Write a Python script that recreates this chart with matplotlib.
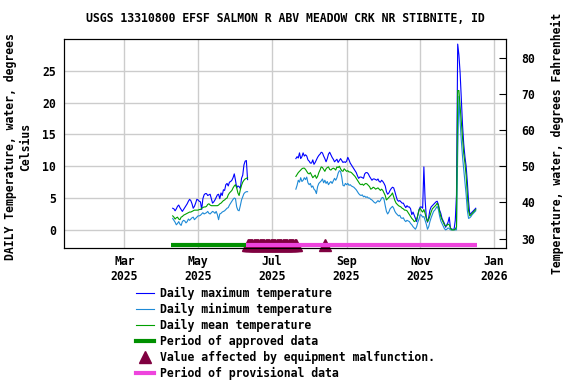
import pandas as pd
import matplotlib
matplotlib.use("Agg")
import matplotlib.pyplot as plt
from matplotlib.lines import Line2D

plt.rcParams["font.family"] = ["DejaVu Sans Mono"]
plt.rcParams["font.size"] = 8.3
plt.rcParams["font.weight"] = "bold"

TITLE = "USGS 13310800 EFSF SALMON R ABV MEADOW CRK NR STIBNITE, ID"

# Spring record (daily, deg C) starting 2025-04-10
start_1 = "2025-04-10"
max_1 = [3.4, 3.3, 3.0, 3.3, 3.7, 3.9, 3.5, 3.2, 2.9, 3.2,
         3.5, 3.8, 4.1, 4.5, 4.8, 4.6, 4.1, 3.4, 3.7, 4.2,
         4.8, 4.7, 4.5, 4.4, 3.2, 4.9, 5.5, 5.7, 5.7, 5.4,
         5.5, 5.6, 4.9, 4.2, 4.4, 4.7, 5.1, 5.5, 5.6, 4.9,
         5.8, 5.4, 6.3, 6.2, 7.1, 7.3, 6.9, 7.5, 7.6, 7.8,
         8.2, 8.8, 7.8, 6.6, 6.9, 6.8, 6.5, 8.1, 8.6, 10.2,
         10.8, 10.9, 7.9]
mean_1 = [2.2, 2.0, 1.7, 1.9, 2.0, 1.7, 1.6, 2.0, 2.1, 2.3,
          2.4, 2.5, 2.6, 2.7, 2.8, 2.8, 2.9, 3.0, 3.1, 3.1,
          3.1, 3.1, 3.2, 3.2, 3.4, 3.5, 3.6, 3.6, 3.7, 4.0,
          4.1, 3.9, 3.8, 3.8, 3.8, 3.8, 3.8, 3.8, 3.9, 4.1,
          4.2, 4.4, 4.6, 4.7, 4.9, 5.0, 5.5, 5.8, 6.0, 6.2,
          6.6, 6.9, 7.1, 6.6, 5.8, 5.4, 6.3, 7.0, 7.5, 7.8,
          8.0, 8.1, 8.2]
min_1 = [1.8, 1.5, 1.2, 0.8, 1.0, 1.3, 0.9, 0.7, 1.3, 1.5,
         1.4, 1.1, 1.3, 1.7, 1.5, 1.7, 1.9, 2.0, 1.6, 1.8,
         2.0, 2.2, 2.2, 2.3, 2.5, 2.7, 2.5, 2.6, 2.7, 2.9,
         2.6, 2.5, 2.7, 2.9, 2.8, 2.6, 2.9, 2.4, 1.6, 2.5,
         2.6, 2.8, 2.9, 3.0, 3.2, 3.4, 3.5, 3.9, 4.2, 4.5,
         4.8, 5.0, 4.9, 3.6, 3.1, 3.0, 3.8, 4.7, 5.2, 5.7,
         5.9, 6.0, 6.0]

# Summer-fall record (daily, deg C) starting 2025-07-21
start_2 = "2025-07-21"
max_2 = [11.2, 11.5, 11.3, 12.1, 11.2, 11.5, 12.1, 11.6, 11.8, 11.6,
         11.0, 10.8, 10.5, 10.5, 11.0, 10.3, 10.6, 11.0, 11.4, 11.7,
         11.9, 12.2, 12.1, 11.6, 11.2, 10.7, 11.2, 11.9, 12.2, 11.8,
         11.4, 11.1, 10.7, 10.9, 11.1, 10.6, 10.9, 11.2, 10.9, 10.6,
         10.7, 10.6, 10.8, 11.4, 11.0, 10.5, 10.2, 9.9, 9.6, 9.3,
         9.0, 8.5, 8.1, 8.3, 8.3, 8.2, 8.1, 8.8, 9.0, 9.0,
         8.8, 8.4, 8.1, 7.8, 8.0, 8.0, 7.9, 7.8, 8.0, 7.6,
         7.5, 7.8, 7.6, 7.3, 6.9, 6.0, 5.6, 5.8, 6.2, 6.5,
         6.7, 6.6, 6.0, 5.3, 4.7, 4.5, 4.6, 4.4, 4.2, 4.2,
         3.8, 3.5, 3.8, 3.6, 3.6, 3.3, 2.4, 2.8, 2.3, 1.8,
         1.3, 2.4, 3.2, 3.6, 3.6, 3.4, 9.9, 4.8, 2.0, 1.2,
         2.0, 3.1, 3.6, 3.8, 4.0, 4.2, 4.4, 4.5, 4.0, 3.1,
         2.6, 1.8, 1.4, 1.0, 0.4, 0.8, 1.2, 2.0, 0.3, 0.1,
         0.1, 0.1, 1.5, 5.5, 29.2, 27.5, 24.7, 20.5, 16.5, 13.5,
         11.5, 10.0, 7.5, 4.5, 2.4, 2.6, 2.8, 3.0, 3.2, 3.4]
mean_2 = [8.4, 8.7, 9.0, 9.2, 9.4, 9.6, 9.7, 9.7, 9.5, 9.2,
          8.9, 8.8, 9.0, 8.6, 8.2, 8.4, 8.6, 8.1, 8.4, 9.0,
          9.4, 9.9, 9.8, 9.5, 9.2, 9.6, 9.8, 9.9, 9.5, 9.4,
          9.6, 9.7, 9.6, 9.4, 9.9, 9.8, 10.0, 9.6, 9.3, 9.2,
          9.6, 9.4, 9.2, 9.3, 9.1, 9.1, 9.0, 8.8, 8.6, 8.4,
          8.1, 7.8, 7.5, 7.2, 7.1, 7.2, 7.0, 7.2, 7.3, 7.2,
          7.0, 6.8, 6.4, 6.5, 6.7, 6.6, 6.4, 6.5, 6.6, 6.4,
          6.2, 6.4, 6.2, 5.8, 5.4, 4.7, 4.9, 5.1, 5.3, 5.5,
          5.8, 5.2, 4.6, 4.2, 4.0, 3.8, 3.7, 3.6, 3.4, 3.3,
          3.1, 3.1, 3.0, 2.7, 2.4, 2.1, 1.8, 1.6, 1.3, 1.4,
          1.7, 2.3, 3.1, 3.4, 3.0, 2.8, 3.2, 2.6, 1.8, 1.3,
          1.6, 2.2, 2.8, 3.3, 3.5, 3.7, 3.9, 4.2, 3.8, 2.9,
          2.1, 1.6, 1.2, 0.8, 0.6, 0.7, 0.9, 0.8, 0.3, 0.0,
          0.0, 0.0, 0.1, 0.5, 21.9, 21.9, 19.5, 17.0, 14.5, 12.0,
          10.5, 8.5, 5.5, 3.0, 2.2, 2.4, 2.6, 2.8, 3.0, 3.2]
min_2 = [6.4, 7.0, 7.8, 7.5, 8.2, 7.6, 7.8, 8.2, 7.9, 8.3,
         7.4, 7.1, 7.3, 6.7, 6.9, 6.4, 6.2, 5.7, 6.8, 7.3,
         7.5, 7.7, 8.0, 7.4, 7.8, 7.3, 7.6, 7.1, 7.4, 7.6,
         7.3, 7.7, 8.1, 7.8, 8.2, 8.9, 9.3, 9.2, 8.3, 7.0,
         6.9, 7.3, 7.1, 7.3, 7.0, 7.1, 6.9, 6.8, 6.7, 6.5,
         6.3, 6.0, 5.7, 5.5, 5.4, 5.5, 5.2, 5.3, 5.1, 5.2,
         5.0, 5.0, 4.8, 4.7, 4.5, 4.3, 4.2, 4.4, 4.6, 4.4,
         4.6, 5.0, 5.1, 4.8, 3.8, 2.9, 2.5, 2.8, 3.3, 3.5,
         3.7, 3.4, 2.9, 2.6, 2.4, 2.2, 2.3, 1.9, 1.8, 1.9,
         1.5, 1.3, 1.5, 1.4, 1.3, 1.0, 0.8, 0.5, 0.3, 0.1,
         0.5, 1.2, 1.7, 2.4, 2.3, 2.0, 2.1, 1.5, 0.9, 0.1,
         0.5, 1.3, 1.9, 2.4, 2.9, 3.1, 3.4, 3.7, 3.2, 2.2,
         1.4, 1.0, 0.6, 0.2, 0.0, 0.1, 0.3, 0.2, 0.0, 0.0,
         0.0, 0.0, 0.0, 0.0, 12.0, 21.0, 17.0, 14.0, 11.5, 9.5,
         7.5, 5.5, 3.0, 1.8, 1.9, 2.1, 2.4, 2.6, 2.8, 3.0]

# Data-quality periods
approved_period = ("2025-04-09", "2025-06-10")
provisional_period = ("2025-06-10", "2025-12-18")
malfunction_range = ("2025-06-11", "2025-07-21")
malfunction_extra = ["2025-08-14"]

tick_dates = ["2025-03-01", "2025-05-01", "2025-07-01",
              "2025-09-01", "2025-11-01", "2026-01-01"]
tick_labels = ["Mar\n2025", "May\n2025", "Jul\n2025",
               "Sep\n2025", "Nov\n2025", "Jan\n2026"]
left_ticks = [0, 5, 10, 15, 20, 25]
right_ticks = [30, 40, 50, 60, 70, 80]

C_MAX = "#0000ff"
C_MIN = "#1e8ad6"
C_MEAN = "#00a000"
C_APPROVED = "#009000"
C_MALF = "#800040"
C_PROV = "#ee44dd"
BAR_Y = -2.3

fig = plt.figure(figsize=(5.76, 3.84), dpi=100)
ax = fig.add_axes([64 / 576, 1 - 248 / 384, 442 / 576, 209 / 384])

for start, series in [(start_1, (max_1, min_1, mean_1)), (start_2, (max_2, min_2, mean_2))]:
    hi, lo, mid = series
    dates = pd.date_range(start, periods=len(hi), freq="D")
    ax.plot(dates, hi, color=C_MAX, lw=0.8, zorder=3)
    ax.plot(dates, lo, color=C_MIN, lw=0.8, zorder=3)
    ax.plot(dates, mid, color=C_MEAN, lw=0.8, zorder=4)

malf_dates = list(pd.date_range(*malfunction_range, freq="D")) + [pd.Timestamp(d) for d in malfunction_extra]
ax.plot(malf_dates, [BAR_Y] * len(malf_dates), ls="none", marker="^",
        ms=8, color=C_MALF, clip_on=False, zorder=5)
ax.plot(pd.to_datetime(list(approved_period)), [BAR_Y, BAR_Y],
        color=C_APPROVED, lw=3, solid_capstyle="butt", zorder=6)
ax.plot(pd.to_datetime(list(provisional_period)), [BAR_Y, BAR_Y],
        color=C_PROV, lw=3, solid_capstyle="butt", zorder=6)

ax.set_xlim(pd.Timestamp("2025-01-10"), pd.Timestamp("2026-01-11"))
ax.set_ylim(-2.85, 30.0)
ax.set_xticks(pd.to_datetime(tick_dates))
ax.set_xticklabels(tick_labels)
ax.set_yticks(left_ticks)
ax.tick_params(axis="x", length=0, pad=5)
ax.tick_params(axis="y", length=0, pad=6)
ax.grid(True, color="#cccccc", lw=1)
ax.set_axisbelow(True)

ax2 = ax.twinx()
ax2.set_ylim(27.37, 85.26)
ax2.set_yticks(right_ticks)
ax2.tick_params(axis="y", direction="in", length=5, pad=11)

fig.text(285 / 576, 1 - 19 / 384, TITLE, ha="center", va="center")
fig.text(18 / 576, 1 - 147 / 384, "DAILY Temperature, water, degrees\nCelsius",
         rotation=90, ha="center", va="center", multialignment="center")
fig.text(557 / 576, 1 - 143 / 384, "Temperature, water, degrees Fahrenheit",
         rotation=90, ha="center", va="center")

handles = [
    Line2D([], [], color=C_MAX, lw=0.8),
    Line2D([], [], color=C_MIN, lw=0.8),
    Line2D([], [], color=C_MEAN, lw=0.8),
    Line2D([], [], color=C_APPROVED, lw=3),
    Line2D([], [], color=C_MALF, ls="none", marker="^", ms=8),
    Line2D([], [], color=C_PROV, lw=3),
]
labels = ["Daily maximum temperature", "Daily minimum temperature",
          "Daily mean temperature", "Period of approved data",
          "Value affected by equipment malfunction.", "Period of provisional data"]
fig.legend(handles, labels, loc="upper left", bbox_to_anchor=(136 / 576, 1 - 287 / 384),
           frameon=False, borderpad=0, handlelength=1.6, handletextpad=0.5,
           labelspacing=0.25, borderaxespad=0)

fig.savefig("out.png", dpi=100)
